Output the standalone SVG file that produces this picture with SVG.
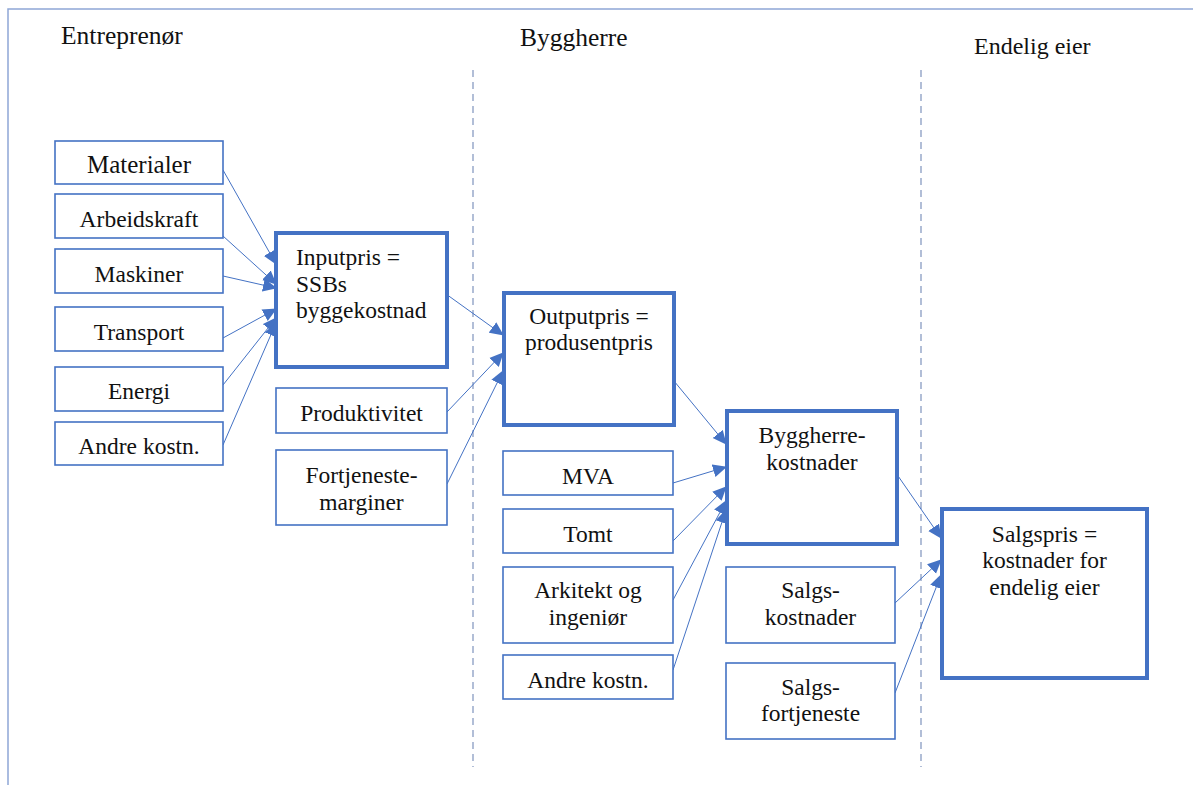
<svg xmlns="http://www.w3.org/2000/svg" width="1193" height="785" viewBox="0 0 1193 785">
  <defs>
    <style>
      text { font-family: "Liberation Serif", "Times New Roman", serif; font-size: 23.5px; fill: #111; }
      .hdr { font-size: 24px; }
      .hdr-l { font-size: 25.5px; }
      .c { text-anchor: middle; }
      .box { fill: #fff; stroke: #4472C4; stroke-width: 1.6; }
      .main { fill: #fff; stroke: #4472C4; stroke-width: 4; }
      .frame { stroke: #8fa6d6; stroke-width: 1.5; fill: none; }
      .divider { stroke: #7f93bd; stroke-width: 1.2; stroke-dasharray: 7 5; fill: none; }
      .link { stroke: #4472C4; stroke-width: 1; fill: none; marker-end: url(#arrow); }
    </style>
    <marker id="arrow" markerUnits="userSpaceOnUse" markerWidth="14" markerHeight="14" refX="13" refY="7" orient="auto">
      <path d="M0,0.5 L14,7 L0,13.5 Z" fill="#4472C4"/>
    </marker>
  </defs>

  <rect width="1193" height="785" fill="#fff"/>

  <!-- page frame -->
  <path class="frame" d="M8,785 V9 H1193"/>

  <!-- column dividers -->
  <line class="divider" x1="473" y1="70" x2="473" y2="767"/>
  <line class="divider" x1="921" y1="70" x2="921" y2="767"/>

  <!-- column headings -->
  <text class="hdr-l" x="61" y="44">Entreprenør</text>
  <text class="hdr-l" x="520" y="46">Byggherre</text>
  <text class="hdr" x="974" y="54">Endelig eier</text>

  <!-- connectors -->
  <g id="connectors">
    <line class="link" x1="223" y1="170" x2="276" y2="264"/>
    <line class="link" x1="223" y1="236" x2="276" y2="284"/>
    <line class="link" x1="223" y1="276" x2="276" y2="288"/>
    <line class="link" x1="223" y1="338" x2="276" y2="309"/>
    <line class="link" x1="223" y1="385" x2="276" y2="318"/>
    <line class="link" x1="223" y1="445" x2="276" y2="323"/>

    <line class="link" x1="446" y1="294" x2="503" y2="335"/>
    <line class="link" x1="447" y1="412" x2="503" y2="353"/>
    <line class="link" x1="447" y1="484" x2="503" y2="371"/>

    <line class="link" x1="674" y1="381" x2="726" y2="444"/>
    <line class="link" x1="673" y1="483" x2="726" y2="467"/>
    <line class="link" x1="673" y1="541" x2="726" y2="487"/>
    <line class="link" x1="673" y1="600" x2="726" y2="501"/>
    <line class="link" x1="673" y1="670" x2="726" y2="510"/>

    <line class="link" x1="896" y1="473" x2="941" y2="538"/>
    <line class="link" x1="895" y1="603" x2="941" y2="560"/>
    <line class="link" x1="895" y1="693" x2="941" y2="575"/>
  </g>

  <!-- contractor inputs -->
  <g id="materialer">
    <rect class="box" x="55" y="141" width="168" height="43"/>
    <text class="c" x="139" y="173" style="font-size:25px">Materialer</text>
  </g>
  <g id="arbeidskraft">
    <rect class="box" x="55" y="194" width="168" height="44"/>
    <text class="c" x="139" y="227">Arbeidskraft</text>
  </g>
  <g id="maskiner">
    <rect class="box" x="55" y="249" width="168" height="44"/>
    <text class="c" x="139" y="282">Maskiner</text>
  </g>
  <g id="transport">
    <rect class="box" x="55" y="307" width="168" height="44"/>
    <text class="c" x="139" y="340">Transport</text>
  </g>
  <g id="energi">
    <rect class="box" x="55" y="367" width="168" height="44"/>
    <text class="c" x="139" y="399">Energi</text>
  </g>
  <g id="andre-kostn-1">
    <rect class="box" x="55" y="422" width="168" height="43"/>
    <text class="c" x="139" y="454">Andre kostn.</text>
  </g>

  <!-- input price -->
  <g id="inputpris">
    <rect class="main" x="276" y="233" width="171" height="134"/>
    <text x="296" y="265">Inputpris =</text>
    <text x="296" y="292">SSBs</text>
    <text x="296" y="318">byggekostnad</text>
  </g>
  <g id="produktivitet">
    <rect class="box" x="276" y="388" width="171" height="45"/>
    <text class="c" x="361.5" y="421">Produktivitet</text>
  </g>
  <g id="fortjenestemarginer">
    <rect class="box" x="276" y="450" width="171" height="75"/>
    <text class="c" x="361.5" y="483">Fortjeneste-</text>
    <text class="c" x="361.5" y="510">marginer</text>
  </g>

  <!-- output price -->
  <g id="outputpris">
    <rect class="main" x="504" y="293" width="170" height="132"/>
    <text class="c" x="589" y="324">Outputpris =</text>
    <text class="c" x="589" y="350">produsentpris</text>
  </g>
  <g id="mva">
    <rect class="box" x="503" y="451" width="170" height="44"/>
    <text class="c" x="588" y="484">MVA</text>
  </g>
  <g id="tomt">
    <rect class="box" x="503" y="509" width="170" height="44"/>
    <text class="c" x="588" y="542">Tomt</text>
  </g>
  <g id="arkitekt">
    <rect class="box" x="503" y="567" width="170" height="76"/>
    <text class="c" x="588" y="598">Arkitekt og</text>
    <text class="c" x="588" y="625">ingeniør</text>
  </g>
  <g id="andre-kostn-2">
    <rect class="box" x="503" y="655" width="170" height="44"/>
    <text class="c" x="588" y="688">Andre kostn.</text>
  </g>

  <!-- developer costs -->
  <g id="byggherrekostnader">
    <rect class="main" x="727" y="411" width="170" height="133"/>
    <text class="c" x="812" y="443">Byggherre-</text>
    <text class="c" x="812" y="470">kostnader</text>
  </g>
  <g id="salgskostnader">
    <rect class="box" x="726" y="567" width="169" height="76"/>
    <text class="c" x="810.5" y="598">Salgs-</text>
    <text class="c" x="810.5" y="625">kostnader</text>
  </g>
  <g id="salgsfortjeneste">
    <rect class="box" x="726" y="663" width="169" height="76"/>
    <text class="c" x="810.5" y="695">Salgs-</text>
    <text class="c" x="810.5" y="721">fortjeneste</text>
  </g>

  <!-- sale price -->
  <g id="salgspris">
    <rect class="main" x="942" y="509" width="205" height="169"/>
    <text class="c" x="1044.5" y="542">Salgspris =</text>
    <text class="c" x="1044.5" y="568">kostnader for</text>
    <text class="c" x="1044.5" y="595">endelig eier</text>
  </g>
</svg>
